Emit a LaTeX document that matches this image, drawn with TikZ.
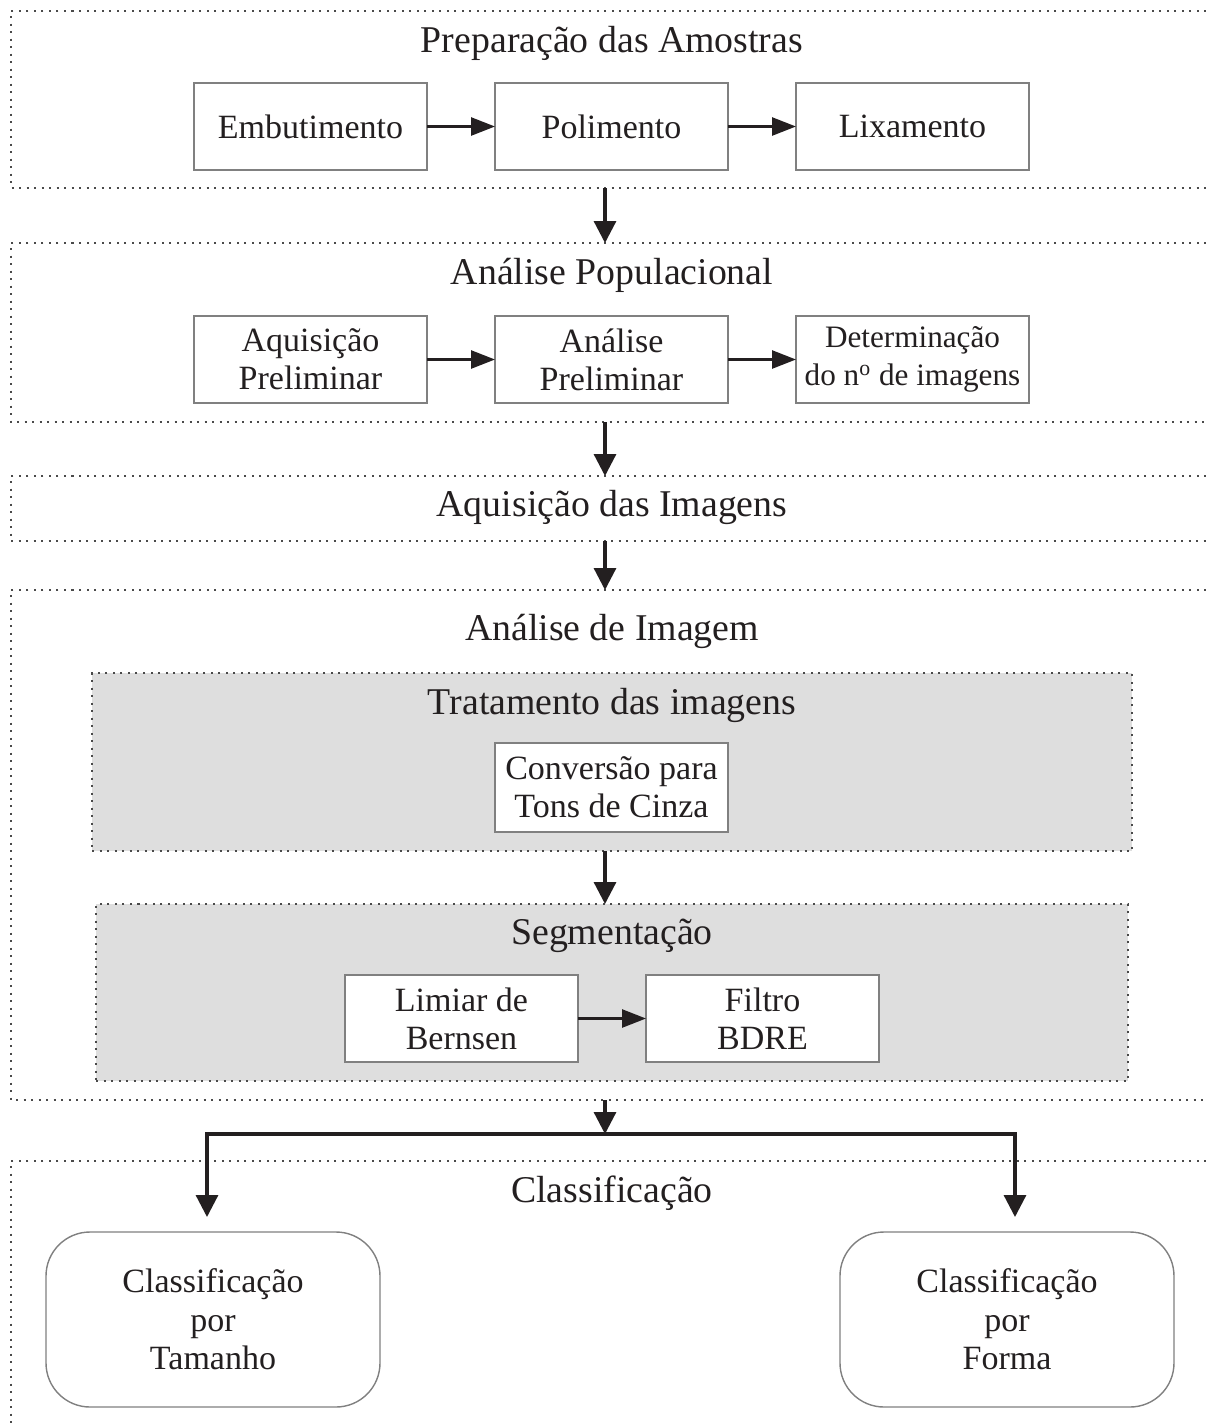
\documentclass[tikz,border=0pt]{standalone}
\usepackage{fontspec}
\setmainfont{Liberation Serif}
\usetikzlibrary{arrows.meta,calc}
\definecolor{ink}{HTML}{231F20}
\definecolor{boxline}{HTML}{808080}
\definecolor{dotc}{HTML}{4A4A4A}
\definecolor{panel}{HTML}{DEDEDE}
\begin{document}
\begin{tikzpicture}[x=0.5pt,y=-0.5pt,
  frame/.style={inner sep=0pt,outer sep=0pt,minimum width=597.5pt},
  dotline/.style={draw=dotc,line width=1pt,dash pattern=on 1pt off 2.75pt},
  panelbox/.style={dotline,fill=panel,inner sep=0pt,outer sep=0pt},
  title/.style={anchor=base,text=ink,font=\fontsize{18.9pt}{21pt}\selectfont},
  stepbox/.style={draw=boxline,line width=0.7pt,fill=white,align=center,text=ink,
    minimum width=116.5pt,minimum height=43.5pt,inner sep=0pt,outer sep=0pt,
    font=\fontsize{17pt}{19pt}\selectfont},
  roundbox/.style={draw=boxline,line width=0.7pt,fill=white,align=center,text=ink,
    rounded corners=22pt,minimum width=167pt,minimum height=87.5pt,inner sep=0pt,
    outer sep=0pt,font=\fontsize{17pt}{19.3pt}\selectfont},
  arr/.style={draw=ink,line width=1.6pt,-{Triangle[length=11pt,width=11pt]}},
  harr/.style={draw=ink,line width=1.3pt,-{Triangle[length=12pt,width=9pt]}}
]
\useasboundingbox (0,0) rectangle (1206,1426);

% outer frames (right side open)
\node[frame,minimum height=88.5pt] (f1) at (608.5,99.5) {};
\node[frame,minimum height=89.5pt] (f2) at (608.5,332.5) {};
\node[frame,minimum height=32.5pt] (f3) at (608.5,508.5) {};
\node[frame,minimum height=255pt] (f4) at (608.5,845) {};
\node[frame,minimum height=132.5pt] (f5) at (608.5,1293.5) {};
\draw[dotline] (f1.north east) -- (f1.north west) -- (f1.south west) -- (f1.south east);
\draw[dotline] (f2.north east) -- (f2.north west) -- (f2.south west) -- (f2.south east);
\draw[dotline] (f3.north east) -- (f3.north west) -- (f3.south west) -- (f3.south east);
\draw[dotline] (f4.north east) -- (f4.north west) -- (f4.south west) -- (f4.south east);
\draw[dotline] (f5.north east) -- (f5.north west) -- (f5.south west);

% grey panels
\node[panelbox,minimum width=520pt,minimum height=89pt] (g1) at (612,762) {};
\node[panelbox,minimum width=516pt,minimum height=88.5pt] (g2) at (612,992.5) {};

% titles
\node[title] (t1) at (612,52) {Preparação das Amostras};
\node[title] (t2) at (612,284) {Análise Populacional};
\node[title] (t3) at (612,516) {Aquisição das Imagens};
\node[title] (t4) at (612,640) {Análise de Imagem};
\node[title] (t5) at (612,714) {Tratamento das imagens};
\node[title] (t6) at (612,944) {Segmentação};
\node[title] (t7) at (612,1202) {Classificação};

% step boxes
\node[stepbox] (emb) at (310.5,126.5) {Embutimento};
\node[stepbox] (pol) at (611.5,126.5) {Polimento};
\node[stepbox] (lix) at (912.5,126.5) {Lixamento};
\node[stepbox] (aqp) at (310.5,359.5) {Aquisição\\Preliminar};
\node[stepbox] (anp) at (611.5,359.5) {Análise\\Preliminar};
\node[stepbox,font=\fontsize{15.6pt}{19pt}\selectfont] (det) at (912.5,359.5) {Determinação\\do n\textsuperscript{o} de imagens};
\node[stepbox,minimum height=44.5pt] (conv) at (611.5,787.5) {Conversão para\\Tons de Cinza};
\node[stepbox] (lim) at (461.5,1018.5) {Limiar de\\Bernsen};
\node[stepbox] (fil) at (762.5,1018.5) {Filtro\\BDRE};
\node[roundbox] (ct) at (213,1319.5) {Classificação\\por\\Tamanho};
\node[roundbox] (cf) at (1007,1319.5) {Classificação\\por\\Forma};

% horizontal connectors
\draw[harr] (emb) -- (pol);
\draw[harr] (pol) -- (lix);
\draw[harr] (aqp) -- (anp);
\draw[harr] (anp) -- (det);
\draw[harr] (lim) -- (fil);

% main flow
\coordinate (axis) at (605,0);
\draw[arr] (f1.south -| axis) -- (f2.north -| axis);
\draw[arr] (f2.south -| axis) -- (f3.north -| axis);
\draw[arr] (f3.south -| axis) -- (f4.north -| axis);
\draw[arr] (g1.south -| axis) -- (g2.north -| axis);
\coordinate (split) at (605,1134);
\coordinate (tipL) at (207,1217);
\coordinate (tipR) at (1015,1217);
\draw[arr] (f4.south -| axis) -- (split);
\draw[arr,miter limit=10] (split) -| (tipL);
\draw[arr] (split) -| (tipR);
\end{tikzpicture}
\end{document}
